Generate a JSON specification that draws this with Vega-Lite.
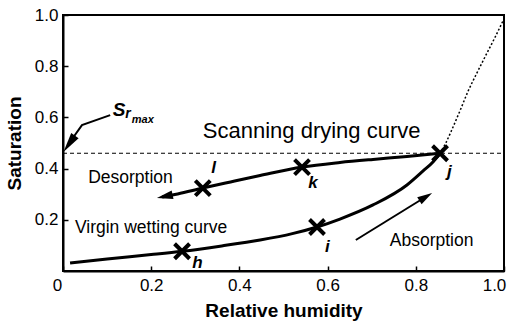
{
  "$schema": "https://vega.github.io/schema/vega-lite/v6.json",
  "width": 441,
  "height": 256,
  "autosize": {"type": "none"},
  "padding": {"left": 63, "top": 15, "right": 6, "bottom": 52},
  "background": "white",
  "config": {
    "font": "Liberation Sans",
    "view": {"stroke": "black", "strokeWidth": 2},
    "axis": {
      "grid": false,
      "domainColor": "black",
      "domainWidth": 2,
      "tickColor": "black",
      "tickSize": -5,
      "tickWidth": 1.5,
      "labelFont": "Liberation Sans",
      "labelFontSize": 17,
      "labelColor": "black",
      "titleFont": "Liberation Sans",
      "titleFontSize": 19,
      "titleFontWeight": "bold",
      "titleColor": "black"
    }
  },
  "datasets": {
    "wetting": [
      {"x": 0.016, "y": 0.031}, {"x": 0.10, "y": 0.047}, {"x": 0.20, "y": 0.064},
      {"x": 0.27, "y": 0.077}, {"x": 0.36, "y": 0.098}, {"x": 0.447, "y": 0.121},
      {"x": 0.52, "y": 0.146}, {"x": 0.576, "y": 0.172}, {"x": 0.628, "y": 0.203},
      {"x": 0.703, "y": 0.258}, {"x": 0.78, "y": 0.336}, {"x": 0.816, "y": 0.39},
      {"x": 0.84, "y": 0.428}, {"x": 0.855, "y": 0.46}
    ],
    "dotted": [
      {"x": 0.855, "y": 0.46}, {"x": 0.868, "y": 0.50}, {"x": 0.880, "y": 0.545},
      {"x": 0.900, "y": 0.625}, {"x": 0.918, "y": 0.700}, {"x": 0.939, "y": 0.775},
      {"x": 0.961, "y": 0.850}, {"x": 0.980, "y": 0.914}, {"x": 0.998, "y": 0.978}
    ],
    "drying": [
      {"x": 0.225, "y": 0.289}, {"x": 0.26, "y": 0.301}, {"x": 0.317, "y": 0.324},
      {"x": 0.38, "y": 0.348}, {"x": 0.447, "y": 0.373}, {"x": 0.542, "y": 0.406},
      {"x": 0.628, "y": 0.424}, {"x": 0.703, "y": 0.436}, {"x": 0.78, "y": 0.447},
      {"x": 0.855, "y": 0.46}
    ],
    "srmax": [
      {"x": 0.013, "y": 0.497}, {"x": 0.043, "y": 0.570}, {"x": 0.107, "y": 0.609}
    ],
    "absorb": [
      {"x": 0.664, "y": 0.121}, {"x": 0.821, "y": 0.288}
    ],
    "hline": [
      {"x": 0, "y": 0.46}, {"x": 1, "y": 0.46}
    ],
    "markers": [
      {"x": 0.27, "y": 0.077, "id": "h"}, {"x": 0.576, "y": 0.172, "id": "i"},
      {"x": 0.855, "y": 0.46, "id": "j"}, {"x": 0.542, "y": 0.406, "id": "k"},
      {"x": 0.317, "y": 0.324, "id": "l"}
    ],
    "letters": [
      {"x": 0.293, "y": 0.012, "label": "h"}, {"x": 0.594, "y": 0.074, "label": "i"},
      {"x": 0.871, "y": 0.367, "label": "j"}, {"x": 0.556, "y": 0.324, "label": "k"},
      {"x": 0.336, "y": 0.383, "label": "l"}
    ],
    "notes": [
      {"x": 0.057, "y": 0.344, "label": "Desorption"},
      {"x": 0.027, "y": 0.15, "label": "Virgin wetting curve"},
      {"x": 0.741, "y": 0.098, "label": "Absorption"}
    ],
    "scanning": [{"x": 0.317, "y": 0.52, "label": "Scanning drying curve"}],
    "s_main": [{"x": 0.113, "y": 0.605, "label": "S"}],
    "s_sub": [{"x": 0.141, "y": 0.596, "label": "r"}],
    "s_subsub": [{"x": 0.156, "y": 0.58, "label": "max"}],
    "head_des": [{"x": 0.213, "y": 0.285}],
    "head_abs": [{"x": 0.837, "y": 0.305}],
    "head_sr": [{"x": 0.001, "y": 0.465}]
  },
  "encoding": {
    "x": {
      "field": "x", "type": "quantitative",
      "scale": {"domain": [0, 1], "nice": false, "zero": false},
      "axis": {
        "values": [0, 0.2, 0.4, 0.6, 0.8, 1],
        "labelExpr": "datum.value == 0 ? '0' : format(datum.value, '.1f')",
        "labelFlush": false,
        "labelOffset": {"condition": [{"test": "datum.value == 0", "value": -6}, {"test": "datum.value == 1", "value": -10}], "value": 0},
        "labelPadding": 11,
        "title": "Relative humidity",
        "titlePadding": 8
      }
    },
    "y": {
      "field": "y", "type": "quantitative",
      "scale": {"domain": [0, 1], "nice": false, "zero": false},
      "axis": {
        "values": [0.2, 0.4, 0.6, 0.8, 1],
        "format": ".1f",
        "labelPadding": 10,
        "title": "Saturation",
        "titlePadding": 10
      }
    }
  },
  "layer": [
    {"data": {"name": "hline"}, "mark": {"type": "line", "color": "black", "strokeWidth": 1.2, "strokeDash": [4, 3]}},
    {"data": {"name": "dotted"}, "mark": {"type": "line", "color": "black", "strokeWidth": 1.5, "strokeDash": [2, 2], "interpolate": "monotone"}},
    {"data": {"name": "wetting"}, "mark": {"type": "line", "color": "black", "strokeWidth": 3, "interpolate": "monotone"}},
    {"data": {"name": "drying"}, "mark": {"type": "line", "color": "black", "strokeWidth": 3, "interpolate": "monotone"}},
    {"data": {"name": "srmax"}, "mark": {"type": "line", "color": "black", "strokeWidth": 2}},
    {"data": {"name": "absorb"}, "mark": {"type": "line", "color": "black", "strokeWidth": 2}},
    {"data": {"name": "head_des"}, "mark": {"type": "point", "shape": "M0,0L0.55,2L-0.55,2Z", "size": 256, "filled": true, "color": "black", "opacity": 1, "angle": 258}},
    {"data": {"name": "head_abs"}, "mark": {"type": "point", "shape": "M0,0L0.55,2L-0.55,2Z", "size": 225, "filled": true, "color": "black", "opacity": 1, "angle": 58}},
    {"data": {"name": "head_sr"}, "mark": {"type": "point", "shape": "M0,0L0.45,2L-0.45,2Z", "size": 400, "filled": true, "color": "black", "opacity": 1, "angle": 215}},
    {"data": {"name": "markers"}, "mark": {"type": "point", "shape": "M-1,-1L1,1M-1,1L1,-1", "size": 225, "filled": false, "color": "black", "strokeWidth": 4, "opacity": 1}},
    {"data": {"name": "letters"}, "mark": {"type": "text", "align": "left", "baseline": "alphabetic", "fontSize": 17, "fontWeight": "bold", "fontStyle": "italic", "color": "black"}, "encoding": {"text": {"field": "label"}}},
    {"data": {"name": "notes"}, "mark": {"type": "text", "align": "left", "baseline": "alphabetic", "fontSize": 17.5, "color": "black"}, "encoding": {"text": {"field": "label"}}},
    {"data": {"name": "scanning"}, "mark": {"type": "text", "align": "left", "baseline": "alphabetic", "fontSize": 22, "color": "black"}, "encoding": {"text": {"field": "label"}}},
    {"data": {"name": "s_main"}, "mark": {"type": "text", "align": "left", "baseline": "alphabetic", "fontSize": 19, "fontWeight": "bold", "fontStyle": "italic", "color": "black"}, "encoding": {"text": {"field": "label"}}},
    {"data": {"name": "s_sub"}, "mark": {"type": "text", "align": "left", "baseline": "alphabetic", "fontSize": 14, "fontWeight": "bold", "fontStyle": "italic", "color": "black"}, "encoding": {"text": {"field": "label"}}},
    {"data": {"name": "s_subsub"}, "mark": {"type": "text", "align": "left", "baseline": "alphabetic", "fontSize": 11, "fontWeight": "bold", "fontStyle": "italic", "color": "black"}, "encoding": {"text": {"field": "label"}}}
  ]
}
